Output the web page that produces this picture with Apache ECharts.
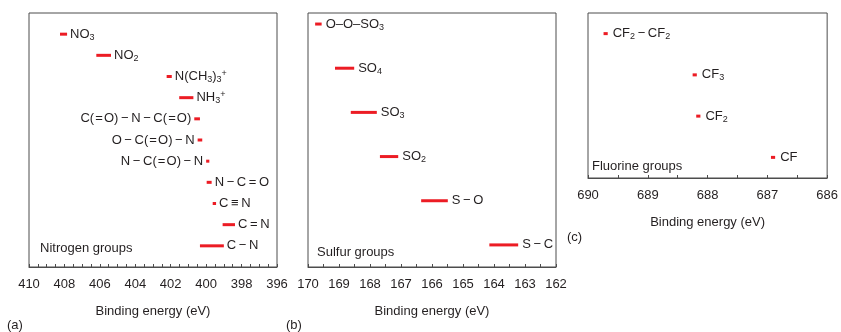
<!DOCTYPE html>
<html>
<head>
<meta charset="utf-8">
<script src="https://cdn.jsdelivr.net/npm/echarts@6/dist/echarts.min.js"></script>
<style>
html,body{margin:0;padding:0;background:#fff;}
#chart{width:841px;height:332px;}
</style>
</head>
<body>
<div id="chart"></div>
<script>
// ---------- Data ----------
// (a) Nitrogen groups, top row first; ranges in binding energy (eV)
const nLabels = ['NO_{3}', 'NO_{2}', 'N(CH_{3})_{3}^{+}', 'NH_{3}^{+}',
  'C(\u200A=\u200AO)\u2009\u2212\u2009N\u2009\u2212\u2009C(\u200A=\u200AO)',
  'O\u2009\u2212\u2009C(\u200A=\u200AO)\u2009\u2212\u2009N',
  'N\u2009\u2212\u2009C(\u200A=\u200AO)\u2009\u2212\u2009N',
  'N\u2009\u2212\u2009C\u2009=\u2009O', 'C\u2009\u2261\u2009N', 'C\u2009=\u2009N', 'C\u2009\u2212\u2009N'];
const nStart = [408.25, 406.2, 402.23, 401.52, 400.67, 400.48, 400.0, 399.97, 399.63, 399.07, 400.35];
const nEnd   = [407.85, 405.37, 401.94, 400.72, 400.35, 400.22, 399.82, 399.69, 399.44, 398.37, 399.0];
const nLabelLeft = [4, 5, 6]; // indices whose label sits left of the mark

// (b) Sulfur groups
const sLabels = ['O\u2013O\u2013SO_{3}', 'SO_{4}', 'SO_{3}', 'SO_{2}', 'S\u2009\u2212\u2009O', 'S\u2009\u2212\u2009C'];
const sStart = [169.77, 169.13, 168.62, 167.68, 166.35, 164.15];
const sEnd   = [169.56, 168.51, 167.78, 167.09, 165.49, 163.22];

// (c) Fluorine groups
const fLabels = ['CF_{2}\u2009\u2212\u2009CF_{2}', 'CF_{3}', 'CF_{2}', 'CF'];
const fStart = [689.74, 688.25, 688.19, 686.94];
const fEnd   = [689.67, 688.18, 688.12, 686.87];

// axes
const aAxis = {min: 396, max: 410, labelStep: 2};
const bAxis = {min: 162, max: 170, labelStep: 1};
const cAxis = {min: 686, max: 690, labelStep: 1};
const axisTitle = 'Binding energy (eV)';
const groupTitles = ['Nitrogen groups', 'Sulfur groups', 'Fluorine groups'];
const panelTags = ['(a)', '(b)', '(c)'];

// ---------- Style ----------
const RED = '#ec1c24';
const TXT = '#231f20';
const BOX = '#4d4d4d';
const FONT = '"Liberation Sans", Arial, Helvetica, sans-serif';
const FS = 13;

function toRich(s) {
  return s.replace(/_\{([^}]*)\}/g, '{s|$1}').replace(/\^\{([^}]*)\}/g, '{p|$1}');
}
const rich = {
  s: {fontSize: 9, lineHeight: 9, verticalAlign: 'bottom', fontFamily: FONT, fill: TXT, color: TXT},
  p: {fontSize: 9, lineHeight: 9, verticalAlign: 'top', fontFamily: FONT, fill: TXT, color: TXT}
};

function makeSeries(idx, labels, start, end, leftIdx, gap) {
  const n = labels.length;
  const data = labels.map((l, i) => [start[i], end[i], n - i]);
  return {
    type: 'custom', xAxisIndex: idx, yAxisIndex: idx, data: data,
    encode: {x: [0, 1], y: 2},
    silent: true,
    renderItem: function (params, api) {
      const i = params.dataIndex;
      const p0 = api.coord([api.value(0), api.value(2)]);
      const p1 = api.coord([api.value(1), api.value(2)]);
      const xl = Math.min(p0[0], p1[0]), xr = Math.max(p0[0], p1[0]);
      const left = leftIdx.indexOf(i) >= 0;
      return {
        type: 'group',
        children: [
          {type: 'line', shape: {x1: p0[0], y1: p0[1], x2: p1[0], y2: p1[1]},
           style: {stroke: RED, lineWidth: 3}},
          {type: 'text', style: {
            text: toRich(labels[i]), x: left ? xl - gap : xr + gap, y: p0[1],
            align: left ? 'right' : 'left', verticalAlign: 'middle',
            fontSize: FS, fontFamily: FONT, fill: TXT, lineHeight: 15, rich: rich}}
        ]
      };
    }
  };
}

function xAxisFor(idx, ax) {
  return {
    type: 'value', gridIndex: idx, min: ax.min, max: ax.max, interval: 0.5, inverse: true,
    name: axisTitle, nameLocation: 'middle', nameGap: 38,
    nameTextStyle: {fontSize: FS, fontFamily: FONT, color: TXT},
    axisLine: {show: true, lineStyle: {color: BOX, width: 1}},
    axisTick: {show: true, inside: true, length: 3, lineStyle: {color: BOX}},
    splitLine: {show: false},
    axisLabel: {
      fontSize: FS, fontFamily: FONT, color: TXT, margin: 11, showMinLabel: true, showMaxLabel: true,
      formatter: function (v) {
        const r = Math.round(v * 100) / 100;
        return (Math.abs(r / ax.labelStep - Math.round(r / ax.labelStep)) < 1e-6) ? String(r) : '';
      }
    }
  };
}

function yAxisFor(idx, min, max) {
  return {type: 'value', gridIndex: idx, min: min, max: max, show: false};
}

const gridCommon = {show: true, borderColor: BOX, borderWidth: 1, backgroundColor: 'transparent', containLabel: false};

const option = {
  animation: false,
  textStyle: {fontFamily: FONT},
  grid: [
    Object.assign({left: 29, top: 13, width: 248, height: 254}, gridCommon),
    Object.assign({left: 308, top: 13, width: 248, height: 254}, gridCommon),
    Object.assign({left: 588, top: 13, width: 241, height: 165}, gridCommon)
  ],
  xAxis: [xAxisFor(0, aAxis), xAxisFor(1, bAxis), xAxisFor(2, cAxis)],
  yAxis: [yAxisFor(0, 0, 12), yAxisFor(1, 0.5, 6.25), yAxisFor(2, 0.5, 4.5)],
  series: [
    makeSeries(0, nLabels, nStart, nEnd, nLabelLeft, 3),
    makeSeries(1, sLabels, sStart, sEnd, [], 4),
    makeSeries(2, fLabels, fStart, fEnd, [], 5)
  ],
  graphic: [
    {type: 'text', left: 40, top: 242, style: {text: groupTitles[0], fontSize: FS, fontFamily: FONT, fill: TXT}},
    {type: 'text', left: 317, top: 246, style: {text: groupTitles[1], fontSize: FS, fontFamily: FONT, fill: TXT}},
    {type: 'text', left: 592, top: 160, style: {text: groupTitles[2], fontSize: FS, fontFamily: FONT, fill: TXT}},
    {type: 'text', left: 7, top: 319, style: {text: panelTags[0], fontSize: FS, fontFamily: FONT, fill: TXT}},
    {type: 'text', left: 286, top: 319, style: {text: panelTags[1], fontSize: FS, fontFamily: FONT, fill: TXT}},
    {type: 'text', left: 567, top: 231, style: {text: panelTags[2], fontSize: FS, fontFamily: FONT, fill: TXT}}
  ]
};

const chart = echarts.init(document.getElementById('chart'), null, {renderer: 'canvas'});
chart.setOption(option);
</script>
</body>
</html>
